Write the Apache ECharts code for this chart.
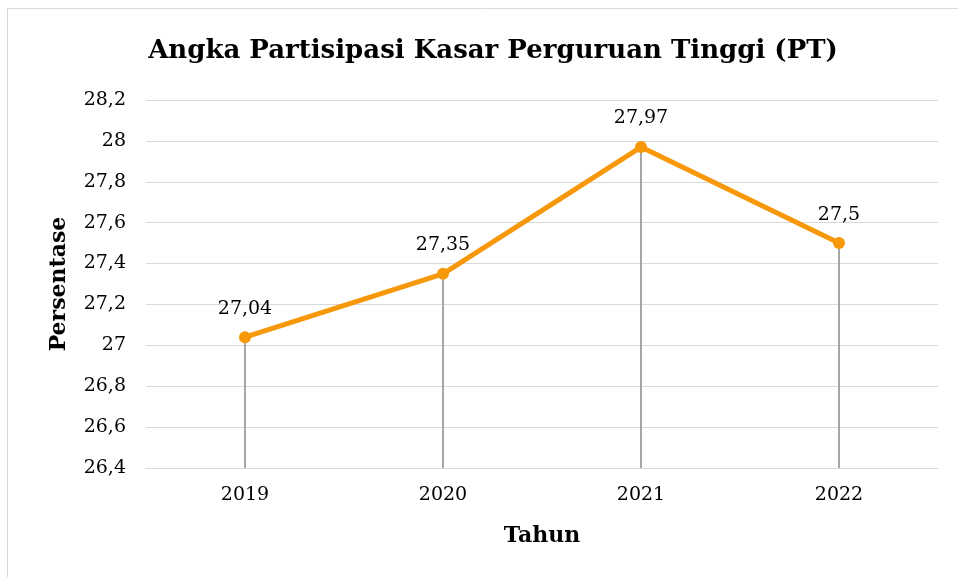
<!DOCTYPE html>
<html>
<head>
<meta charset="utf-8">
<script src="https://cdn.jsdelivr.net/npm/echarts@6/dist/echarts.min.js"></script>
<style>
  html, body { margin: 0; padding: 0; background: #fff; }
  #chart { width: 958px; height: 577px; }
</style>
</head>
<body>
<div id="chart"></div>
<script>
// data of the APK Perguruan Tinggi chart
var tahun = ['2019', '2020', '2021', '2022'];
var persentase = [27.04, 27.35, 27.97, 27.5];
var yMin = 26.4;
var yMax = 28.2;
var yStep = 0.2;

var font = '"DejaVu Serif", "Liberation Serif", serif';
function koma(v) {
  return String(+v.toFixed(2)).replace('.', ',');
}

var chart = echarts.init(document.getElementById('chart'));
chart.setOption({
  animation: false,
  backgroundColor: '#fff',
  graphic: [{
    type: 'rect',
    shape: { x: 7.5, y: 8.5, width: 1000, height: 1000 },
    style: { fill: 'none', stroke: '#d9d9d9', lineWidth: 1 }
  }],
  title: {
    text: 'Angka Partisipasi Kasar Perguruan Tinggi (PT)',
    left: 488,
    textAlign: 'center',
    top: 33,
    textStyle: { fontFamily: font, fontWeight: 'bold', fontSize: 26, color: '#000' }
  },
  grid: { left: 146, right: 20, top: 100, bottom: 109 },
  xAxis: {
    type: 'category',
    data: tahun,
    name: 'Tahun',
    nameLocation: 'middle',
    nameGap: 57,
    nameTextStyle: { fontFamily: font, fontWeight: 'bold', fontSize: 22, color: '#000' },
    axisLine: { show: true, lineStyle: { color: '#d9d9d9', width: 1 } },
    axisTick: { show: false },
    axisLabel: { fontFamily: font, fontSize: 19, color: '#000', margin: 18 }
  },
  yAxis: {
    type: 'value',
    min: yMin,
    max: yMax,
    interval: yStep,
    name: 'Persentase',
    nameLocation: 'middle',
    nameGap: 76,
    nameTextStyle: { fontFamily: font, fontWeight: 'bold', fontSize: 22, color: '#000' },
    axisLine: { show: false },
    axisTick: { show: false },
    axisLabel: {
      fontFamily: font, fontSize: 19, color: '#000', margin: 20,
      formatter: function (v) { return koma(v); }
    },
    splitLine: { lineStyle: { color: '#d9d9d9', width: 1 } }
  },
  series: [
    {
      // garis jatuh ke sumbu x
      type: 'bar',
      data: persentase,
      barWidth: 2,
      itemStyle: { color: '#a6a6a6' },
      silent: true
    },
    {
      type: 'line',
      data: persentase,
      symbol: 'circle',
      symbolSize: 12,
      lineStyle: { color: '#f7980a', width: 5 },
      itemStyle: { color: '#f7980a' },
      label: {
        show: true,
        position: 'top',
        distance: 13,
        fontFamily: font,
        fontSize: 19,
        color: '#000',
        formatter: function (p) { return koma(p.value); }
      }
    }
  ]
});
</script>
</body>
</html>
